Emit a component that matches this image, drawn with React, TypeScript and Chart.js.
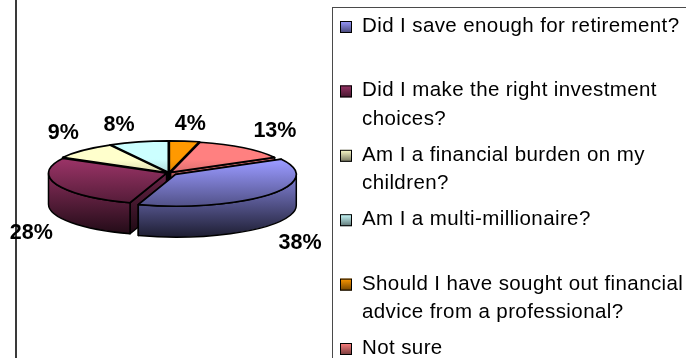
import React, { useEffect, useRef } from "react";
import { Chart, registerables } from "chart.js";

Chart.register(...registerables);

// ---- data ----
const categories = [
  "Did I save enough for retirement?",
  "Did I make the right investment choices?",
  "Am I a financial burden on my children?",
  "Am I a multi-millionaire?",
  "Should I have sought out financial advice from a professional?",
  "Not sure",
];
const values = [38, 28, 9, 8, 4, 13];
const percentLabels = ["38%", "28%", "9%", "8%", "4%", "13%"];
const sliceColors = ["#9999FF", "#993366", "#FFFFCC", "#CCFFFF", "#FF9900", "#FF8080"];
const sliceOffsets = [29, 9, 9, 9, 9, 9];

// ---- layout ----
const W = 686;
const H = 358;
const CX = 169;
const CY = 173;
const RX = 118;
const RY = 31;
const DEPTH = 31;
const ROTATION = 61.2;
const BASE_RADIUS = 100;
const GRAD_TOP = 160;
const GRAD_BOTTOM = 252;
const LEGEND_FONT = "20.5px 'Liberation Sans', Arial, sans-serif";
const LABEL_FONT = "bold 21.5px 'Liberation Sans', Arial, sans-serif";

function hexToRgb(hex: string) {
  const h = hex.replace("#", "");
  return [parseInt(h.slice(0, 2), 16), parseInt(h.slice(2, 4), 16), parseInt(h.slice(4, 6), 16)];
}
function shade(hex: string, f: number) {
  const [r, g, b] = hexToRgb(hex);
  return `rgb(${Math.round(r * f)},${Math.round(g * f)},${Math.round(b * f)})`;
}
function grad(ctx: CanvasRenderingContext2D, color: string, y0: number, y1: number, f = 1) {
  const g = ctx.createLinearGradient(0, y0, 0, y1);
  g.addColorStop(0, shade(color, f));
  g.addColorStop(1, shade(color, 0.04));
  return g;
}

type Geo = {
  i: number; a0: number; a1: number; h: number;
  cx: number; cy: number; rx: number; ry: number; color: string;
};

function sliceGeo(chart: any): Geo[] {
  const meta = chart.getDatasetMeta(0);
  const els = meta.data as any[];
  const el0 = els[0];
  const R0 = el0.outerRadius;
  const sx = RX / R0;
  const sy = RY / R0;
  return els.map((el: any, i: number) => {
    const a0 = el.startAngle;
    const a1 = el.endAngle;
    const h = (a0 + a1) / 2;
    const off = (el.options.offset || 0) / 4;
    const fix = 1 - Math.sin(Math.min(Math.PI, a1 - a0));
    const r = el.outerRadius + off * fix;
    const cx = CX + (el.x + Math.cos(h) * off - el0.x) * sx;
    const cy = CY + (el.y + Math.sin(h) * off - el0.y) * sy;
    return { i, a0, a1, h, cx, cy, rx: r * sx, ry: r * sy, color: sliceColors[i] };
  });
}

const pt = (g: Geo, a: number): [number, number] => [g.cx + g.rx * Math.cos(a), g.cy + g.ry * Math.sin(a)];

const pie3d = {
  id: "pie3d",
  beforeDraw(chart: any) {
    const ctx = chart.ctx as CanvasRenderingContext2D;
    ctx.save();
    ctx.fillStyle = "#ffffff";
    ctx.fillRect(0, 0, W, H);
    ctx.fillStyle = "#3a3a3a";
    ctx.fillRect(15, 0, 2, H);
    ctx.restore();
  },
  beforeDatasetsDraw(chart: any) {
    const ctx = chart.ctx as CanvasRenderingContext2D;
    const geos = sliceGeo(chart);
    ctx.save();
    ctx.lineJoin = "round";
    ctx.strokeStyle = "#000";
    ctx.lineWidth = 1.5;
    // cut faces
    const faces: { g: Geo; a: number; key: number }[] = [];
    geos.forEach((g) => {
      [g.a0, g.a1].forEach((a) => {
        const [, py] = pt(g, a);
        faces.push({ g, a, key: (py + g.cy) / 2 });
      });
    });
    faces.sort((p, q) => p.key - q.key);
    faces.forEach(({ g, a }) => {
      const [px, py] = pt(g, a);
      ctx.beginPath();
      ctx.moveTo(g.cx, g.cy);
      ctx.lineTo(px, py);
      ctx.lineTo(px, py + DEPTH);
      ctx.lineTo(g.cx, g.cy + DEPTH);
      ctx.closePath();
      ctx.fillStyle = grad(ctx, g.color, GRAD_TOP, GRAD_BOTTOM, 0.8);
      ctx.fill();
      ctx.stroke();
    });
    // outer walls (front half)
    geos.forEach((g) => {
      for (let k = -1; k <= 1; k++) {
        const lo = Math.max(g.a0, 2 * Math.PI * k);
        const hi = Math.min(g.a1, 2 * Math.PI * k + Math.PI);
        if (hi <= lo) continue;
        const [x1, y1] = pt(g, hi);
        ctx.beginPath();
        ctx.ellipse(g.cx, g.cy, g.rx, g.ry, 0, lo, hi, false);
        ctx.lineTo(x1, y1 + DEPTH);
        ctx.ellipse(g.cx, g.cy + DEPTH, g.rx, g.ry, 0, hi, lo, true);
        ctx.closePath();
        ctx.fillStyle = grad(ctx, g.color, GRAD_TOP, GRAD_BOTTOM);
        ctx.fill();
        ctx.stroke();
      }
    });
    ctx.restore();

    // transform for library-drawn top faces
    const el0 = chart.getDatasetMeta(0).data[0];
    const R0 = el0.outerRadius;
    ctx.save();
    ctx.translate(CX, CY);
    ctx.scale(RX / R0, RY / R0);
    ctx.translate(-el0.x, -el0.y);
  },
  afterDatasetsDraw(chart: any) {
    const ctx = chart.ctx as CanvasRenderingContext2D;
    ctx.restore();
    const geos = sliceGeo(chart);
    ctx.save();
    ctx.lineJoin = "round";
    ctx.strokeStyle = "#000";
    ctx.lineWidth = 1.7;
    geos.forEach((g) => {
      ctx.beginPath();
      ctx.moveTo(g.cx, g.cy);
      ctx.ellipse(g.cx, g.cy, g.rx, g.ry, 0, g.a0, g.a1, false);
      ctx.closePath();
      ctx.stroke();
    });
    // percentage labels
    ctx.font = LABEL_FONT;
    ctx.fillStyle = "#000";
    geos.forEach((g) => {
      const c = Math.cos(g.h);
      const s = Math.sin(g.h);
      const [px, py] = pt(g, g.h);
      let x = px + 6;
      ctx.textAlign = "center";
      if (c < -0.15) { ctx.textAlign = "right"; x = px - 4; }
      else if (c > 0.2) { ctx.textAlign = "left"; x = px + 10; }
      const y = s < 0 ? py - 11 : py + DEPTH + 6 + 17;
      ctx.textBaseline = "alphabetic";
      ctx.fillText(percentLabels[g.i], x, y);
    });
    ctx.restore();
  },
  afterDraw(chart: any) {
    const ctx = chart.ctx as CanvasRenderingContext2D;
    ctx.save();
    // legend box
    ctx.strokeStyle = "#4a4a4a";
    ctx.lineWidth = 1;
    ctx.strokeRect(332.5, 7.5, 400, 400);
    ctx.font = LEGEND_FONT;
    (ctx as any).letterSpacing = "0.4px";
    ctx.textAlign = "left";
    ctx.textBaseline = "alphabetic";
    const maxW = 336;
    categories.forEach((label, i) => {
      const base = 32 + i * 64.4;
      // marker
      const mg = ctx.createLinearGradient(0, base - 11, 0, base + 1);
      mg.addColorStop(0, sliceColors[i]);
      mg.addColorStop(1, shade(sliceColors[i], 0.45));
      ctx.fillStyle = mg;
      ctx.fillRect(340, base - 11, 12, 12);
      ctx.strokeStyle = "#000";
      ctx.lineWidth = 1;
      ctx.strokeRect(340.5, base - 10.5, 11, 11);
      // wrapped text
      const words = label.split(" ");
      const lines: string[] = [];
      let cur = "";
      words.forEach((w) => {
        const t = cur ? cur + " " + w : w;
        if (ctx.measureText(t).width > maxW && cur) { lines.push(cur); cur = w; }
        else cur = t;
      });
      if (cur) lines.push(cur);
      ctx.fillStyle = "#000";
      lines.forEach((ln, k) => ctx.fillText(ln, 362, base + k * 28.5));
    });
    ctx.restore();
  },
};

export default function App() {
  const ref = useRef<HTMLCanvasElement>(null);
  useEffect(() => {
    document.body.style.margin = "0";
    const chart = new Chart(ref.current as HTMLCanvasElement, {
      type: "pie",
      data: {
        labels: categories,
        datasets: [
          {
            data: values,
            offset: sliceOffsets,
            borderWidth: 0,
            clip: false as any,
            backgroundColor: (c: any) => {
              const chart = c.chart;
              const area = chart.chartArea;
              if (!area) return sliceColors[c.dataIndex];
              const cy0 = (area.top + area.bottom) / 2;
              const sy = RY / BASE_RADIUS;
              const y0 = cy0 + (GRAD_TOP - CY) / sy;
              const y1 = cy0 + (GRAD_BOTTOM - CY) / sy;
              return grad(chart.ctx, sliceColors[c.dataIndex % sliceColors.length], y0, y1);
            },
          } as any,
        ],
      },
      options: {
        responsive: false,
        animation: false,
        devicePixelRatio: 1,
        rotation: ROTATION,
        radius: BASE_RADIUS,
        events: [],
        layout: { padding: 0 },
        plugins: {
          legend: { display: false },
          tooltip: { enabled: false },
        },
      } as any,
      plugins: [pie3d],
    });
    return () => chart.destroy();
  }, []);
  return (
    <div style={{ position: "fixed", left: 0, top: 0, width: W, height: H, background: "#fff" }}>
      <canvas ref={ref} width={W} height={H} style={{ display: "block", width: W, height: H }} />
    </div>
  );
}
